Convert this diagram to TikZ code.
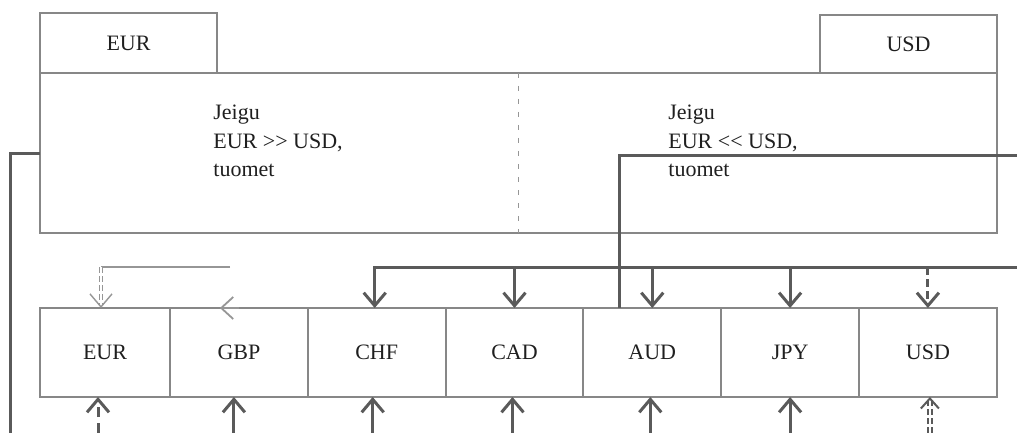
\documentclass[tikz,border=0pt]{standalone}
\usepackage{fontspec}
\setmainfont{Liberation Serif}
\usetikzlibrary{positioning}
\usetikzlibrary{arrows.meta}
\definecolor{BoxGray}{RGB}{135,135,135}
\definecolor{FlowGray}{RGB}{90,90,90}
\definecolor{PaleGray}{RGB}{150,150,150}
\tikzset{
cellnode/.style={rectangle, draw=BoxGray, line width=1pt, minimum width=68.9pt, minimum height=44.5pt, inner sep=0pt, outer sep=0pt, font=\fontsize{11}{14}\selectfont, text=black!88},
tabnode/.style={rectangle, draw=BoxGray, line width=1pt, minimum width=88.5pt, minimum height=30pt, inner sep=0pt, outer sep=0pt, font=\fontsize{11}{14}\selectfont, text=black!88},
mainnode/.style={rectangle, draw=BoxGray, line width=1pt, minimum width=478.5pt, minimum height=80pt, inner sep=0pt, outer sep=0pt},
textnode/.style={align=left, inner sep=0pt, font=\fontsize{11}{14.3}\selectfont, text=black!88},
flow/.style={draw=FlowGray, line width=1.5pt},
flowarrow/.style={flow, -{Straight Barb[length=6.5pt, width=11pt]}},
thinline/.style={draw=PaleGray, line width=0.9pt}
}

\begin{document}
\begin{tikzpicture}[x=0.5pt, y=-0.5pt]
\useasboundingbox (0,0) rectangle (1017,433);
%Nodes
\node [mainnode, anchor=north west] (main) at (40,73) {};
\node [tabnode, anchor=south west] (tabEUR) at (main.north west) {EUR};
\node [tabnode, anchor=south east, minimum height=29pt] (tabUSD) at (main.north east) {USD};
\node [textnode, anchor=west] (condL) at (213,141) {Jeigu\\EUR >\kern0pt> USD,\\tuomet};
\node [textnode, anchor=west] (condR) at (668,141) {Jeigu\\EUR <\kern0pt< USD,\\tuomet};

\node [cellnode, anchor=north west, minimum width=65pt] (EUR) at (40,308) {EUR};
\node [cellnode] (GBP) [right=0 of EUR] {GBP};
\node [cellnode] (CHF) [right=0 of GBP] {CHF};
\node [cellnode] (CAD) [right=0 of CHF] {CAD};
\node [cellnode] (AUD) [right=0 of CAD] {AUD};
\node [cellnode] (JPY) [right=0 of AUD] {JPY};
\node [cellnode] (USD) [right=0 of JPY] {USD};

\coordinate (leftOut) at (10,433);
\coordinate (rightIn) at (1017,155);
\coordinate (busIn) at (1017,267);
\coordinate (loopEnd) at (230,267);
\coordinate (loopCorner) at (101,267);
\coordinate (bottomEdge) at (0,433);

%Lines
\draw[thinline, dash pattern=on 2.5pt off 4pt] (main.north) -- (main.south);
\draw[flow] (main.west) -| (leftOut);
\draw[flow] (rightIn) -| ([xshift=-16.5pt]AUD.north);
\draw[flowarrow] (busIn) -| ([xshift=-1pt]CHF.north);
\foreach \c in {CAD,AUD,JPY}
  \draw[flowarrow] (\c.north |- busIn) -- (\c.north);
\draw[flowarrow, dash pattern=on 4pt off 2pt] (USD.north |- busIn) -- (USD.north);

\draw[thinline] (loopEnd) -- (loopCorner);
\draw[thinline, double=white, double distance=1pt, line width=0.7pt, dash pattern=on 3pt off 1.5pt, -{Straight Barb[length=6.5pt, width=11pt]}] (loopCorner) -- (loopCorner |- EUR.north);
\draw[thinline, -{Straight Barb[length=6pt, width=11pt]}] (GBP.north) -- ([xshift=-9.5pt]GBP.north);

\foreach \c/\s in {GBP/-2.5pt, CHF/-2pt, CAD/-1pt, AUD/-1pt, JPY/0pt}
  \draw[flowarrow] ([xshift=\s]\c.south |- bottomEdge) -- ([xshift=\s]\c.south);
\draw[flowarrow, dash pattern=on 5pt off 3pt] ([xshift=-3.5pt]EUR.south |- bottomEdge) -- ([xshift=-3.5pt]EUR.south);
\draw[flow, double=white, double distance=1pt, line width=1pt, dash pattern=on 3pt off 1.5pt, -{Straight Barb[length=5pt, width=9pt]}] ([xshift=1pt]USD.south |- bottomEdge) -- ([xshift=1pt]USD.south);

\end{tikzpicture}
\end{document}
